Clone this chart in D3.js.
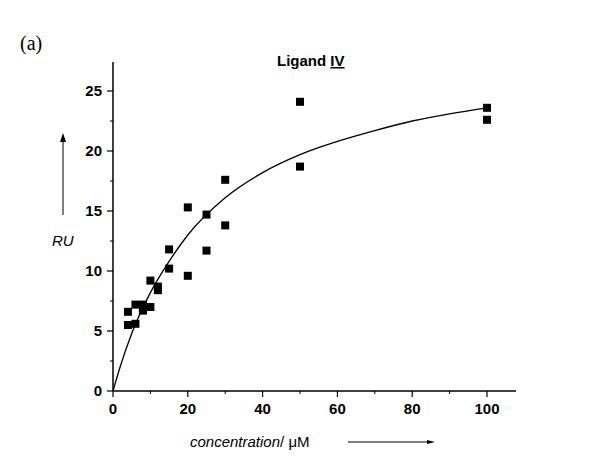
<!DOCTYPE html>
<html><head><meta charset="utf-8">
<script src="https://cdn.jsdelivr.net/npm/d3@7"></script>
<style>body{margin:0;background:#fff}</style>
</head><body>
<svg id="chart" width="606" height="461"></svg>
<script>
// measured points
var concX = [4,4,6,6,8,8,8,10,10,12,12,15,15,20,20,25,25,30,30,50,50,100,100];
var ruY   = [6.6,5.5,7.2,5.6,7.2,6.9,6.7,9.2,7.0,8.7,8.4,11.8,10.2,15.3,9.6,14.7,11.7,17.6,13.8,24.1,18.7,23.6,22.6];
// fitted curve
var fitX = [0,2,5,10,15,20,30,40,50,60,70,80,90,100];
var fitY = [0,2.1,4.8,8.2,10.8,13.0,16.1,18.2,19.7,20.8,21.7,22.5,23.1,23.6];
var xTicks = [0,20,40,60,80,100];
var yTicks = [0,5,10,15,20,25];

var svg = d3.select("#chart");
var x = d3.scaleLinear().domain([0,100]).range([113,487]);
var y = d3.scaleLinear().domain([0,25]).range([391,91]);

// axes
svg.append("line").attr("x1",113).attr("x2",516).attr("y1",391).attr("y2",391).attr("stroke","#000").attr("stroke-width",1.5);
svg.append("line").attr("x1",113).attr("x2",113).attr("y1",391).attr("y2",62).attr("stroke","#000").attr("stroke-width",1.5);

xTicks.forEach(function(t){
  svg.append("line").attr("x1",x(t)).attr("x2",x(t)).attr("y1",391).attr("y2",397).attr("stroke","#000").attr("stroke-width",1.2);
  svg.append("text").attr("x",x(t)).attr("y",414).attr("text-anchor","middle")
    .attr("font-family","Liberation Sans, Arial").attr("font-weight","bold").attr("font-size",15).text(t);
});
d3.range(10,101,20).forEach(function(t){
  svg.append("line").attr("x1",x(t)).attr("x2",x(t)).attr("y1",391).attr("y2",394).attr("stroke","#000");
});
yTicks.forEach(function(t){
  svg.append("line").attr("x1",107).attr("x2",113).attr("y1",y(t)).attr("y2",y(t)).attr("stroke","#000").attr("stroke-width",1.2);
  svg.append("text").attr("x",102).attr("y",y(t)+5).attr("text-anchor","end")
    .attr("font-family","Liberation Sans, Arial").attr("font-weight","bold").attr("font-size",15).text(t);
});
d3.range(2.5,26,5).forEach(function(t){
  svg.append("line").attr("x1",110).attr("x2",113).attr("y1",y(t)).attr("y2",y(t)).attr("stroke","#000");
});

// fit curve
var line = d3.line().x(function(d){return x(d[0]);}).y(function(d){return y(d[1]);}).curve(d3.curveMonotoneX);
svg.append("path").datum(d3.zip(fitX,fitY)).attr("d",line).attr("fill","none").attr("stroke","#000").attr("stroke-width",1.3);

// points
svg.selectAll("rect.pt").data(d3.zip(concX,ruY)).enter().append("rect")
  .attr("x",function(d){return x(d[0])-4;}).attr("y",function(d){return y(d[1])-4;})
  .attr("width",8).attr("height",8).attr("fill","#000");

// texts
svg.append("text").attr("x",20).attr("y",50).attr("font-family","Liberation Serif, Times New Roman").attr("font-size",20).text("(a)");
var title = svg.append("text").attr("x",277).attr("y",66).attr("font-family","Liberation Sans, Arial").attr("font-weight","bold").attr("font-size",15);
title.append("tspan").text("Ligand ");
title.append("tspan").attr("text-decoration","underline").text("IV");
svg.append("text").attr("x",52).attr("y",246).attr("font-family","Liberation Sans, Arial").attr("font-style","italic").attr("font-size",15).text("RU");
svg.append("line").attr("x1",63).attr("x2",63).attr("y1",215).attr("y2",138).attr("stroke","#000");
svg.append("path").attr("d","M60,142 L63,133 L66,142 Z").attr("fill","#000");
var xl = svg.append("text").attr("x",190).attr("y",447).attr("font-family","Liberation Sans, Arial").attr("font-size",15);
xl.append("tspan").attr("font-style","italic").text("concentration");
xl.append("tspan").text("/ μM");
svg.append("line").attr("x1",348).attr("x2",430).attr("y1",442).attr("y2",442).attr("stroke","#000");
svg.append("path").attr("d","M427,440 L435,442 L427,444 Z").attr("fill","#000");
</script>
</body></html>
